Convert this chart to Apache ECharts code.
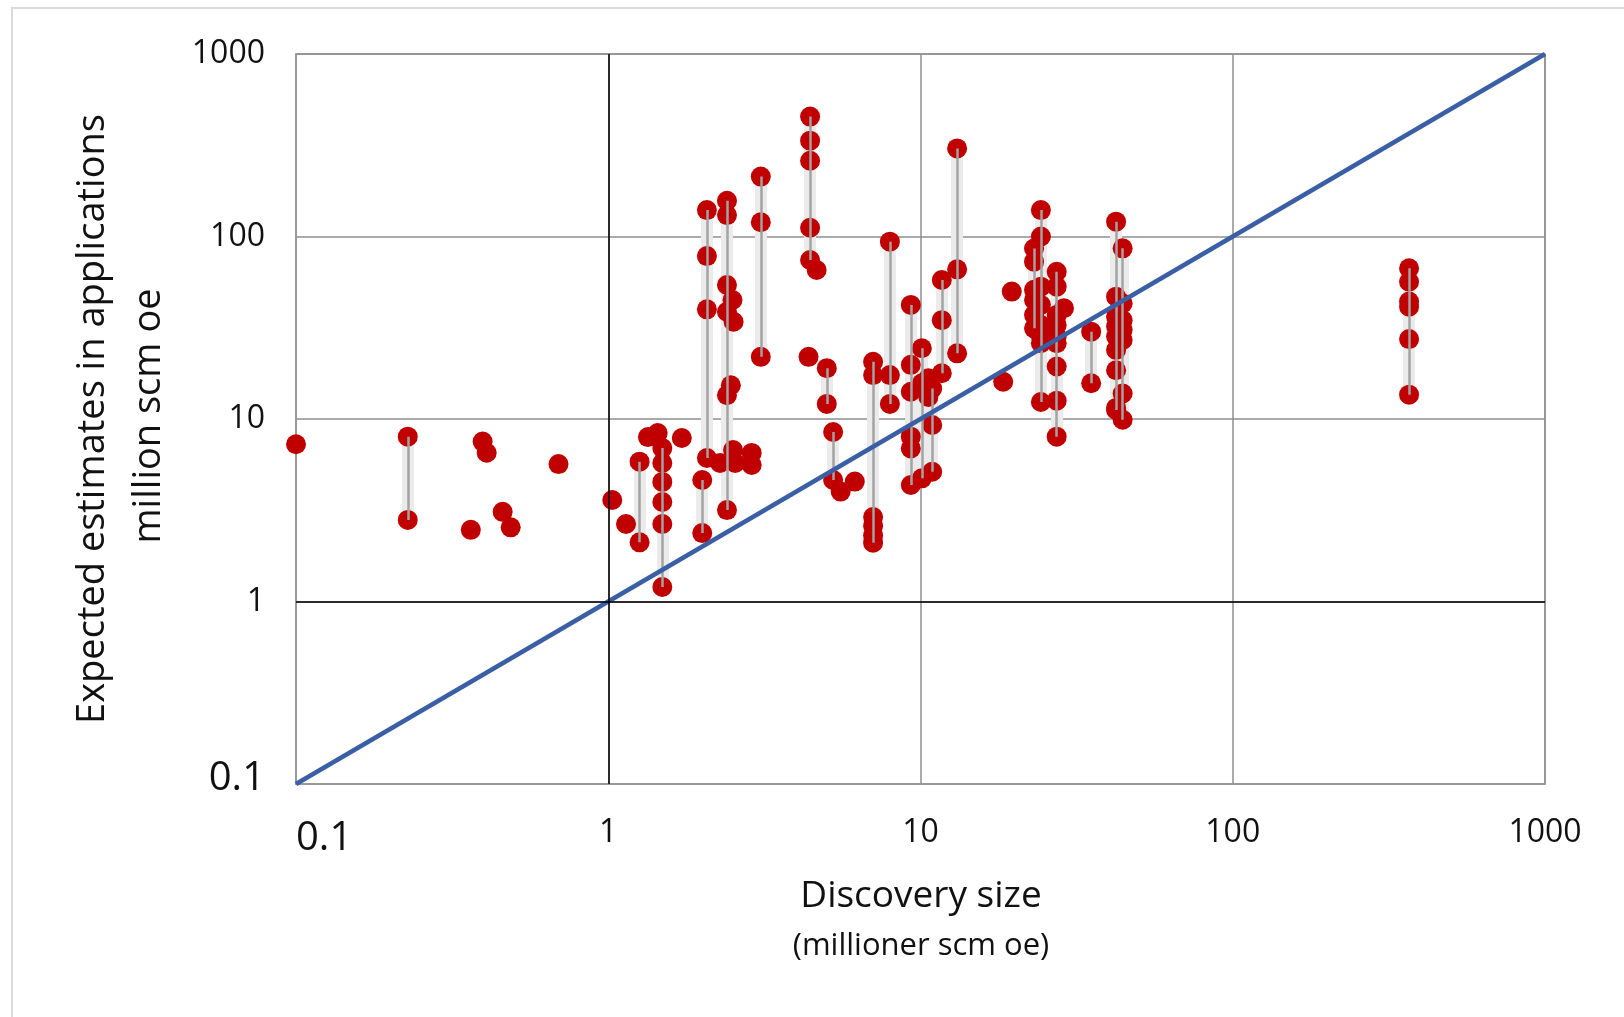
<!DOCTYPE html>
<html>
<head>
<meta charset="utf-8">
<script src="https://cdn.jsdelivr.net/npm/echarts@6/dist/echarts.min.js"></script>
<style>
html,body{margin:0;padding:0;background:#fff;}
#c{width:1624px;height:1017px;}
</style>
</head>
<body>
<div id="c"></div>
<script>
// x value of each discovery (million scm oe)
const discoverySize = [0.1, 0.228, 0.396, 0.408, 0.363, 0.459, 0.487, 0.693, 1.03, 1.14,
  1.26, 1.34, 1.44, 1.49, 1.72, 2.0, 2.07, 2.28, 2.40, 2.50,
  2.52, 2.47, 2.51, 2.55, 2.88, 2.88, 3.08, 4.43, 4.65, 4.38,
  5.01, 5.25, 5.55, 6.16, 7.05, 7.98, 9.31, 10.1, 10.6, 10.6,
  10.9, 11.7, 13.1, 18.4, 19.6, 23.1, 24.3, 27.3, 28.8, 35.2,
  42.3, 44.4, 367];
// expected estimates in applications for each discovery
const estimates = [
  [7.27], [8.0, 2.8], [7.52], [6.53], [2.47], [3.10], [2.55], [5.66], [3.60], [2.66],
  [5.84, 2.11], [7.96], [8.37], [6.93, 5.74, 4.52, 3.51, 2.66, 1.20], [7.87], [4.63, 2.37],
  [139.6, 78.1, 39.9, 6.11], [5.74], [157, 131, 54.2, 38.7, 13.5, 3.17], [44.9],
  [34.1], [15.3], [6.76], [5.74], [6.52], [5.60], [213, 119.7, 21.9],
  [454, 335, 260, 111.7, 74.3], [65.5], [21.9],
  [19.0, 12.1], [8.49, 4.63], [4.0], [4.54], [20.6, 17.4, 2.9, 2.6, 2.3, 2.1],
  [93.7, 17.4, 12.1], [42.2, 19.8, 14.1, 8.0, 6.9, 4.35], [24.4, 15.7, 4.73], [16.7], [13.2],
  [14.7, 9.27, 5.14], [57.8, 34.8, 17.8], [304, 66.1, 22.9], [16.0], [49.9],
  [86, 72.8, 51, 44.9, 37.2, 31.4], [139.6, 100, 53.1, 42.2, 32.7, 28.3, 26, 12.4],
  [64.1, 53.1, 37.2, 32.7, 28.3, 26, 19.4, 12.6, 8.0], [40.5], [30.1, 15.7],
  [120.6, 46.8, 36.3, 32.1, 28.3, 23.9, 18.5, 11.5, 11.2],
  [86.1, 43, 34.8, 30.8, 27.1, 13.8, 9.9], [67, 56.5, 44, 41.2, 27.4, 13.6]
];
const diagonal = [[0.1, 0.1], [1000, 1000]];
const axisMin = 0.1, axisMax = 1000;

const points = [];
const ranges = [];
discoverySize.forEach((x, i) => {
  const ys = estimates[i];
  ys.forEach(y => points.push([x, y]));
  if (ys.length > 1) {
    ranges.push({coords: [[x, Math.max(...ys)], [x, Math.min(...ys)]]});
  }
});

const FONT = '"Open Sans", "Noto Sans", sans-serif';
const chart = echarts.init(document.getElementById('c'), null, {renderer: 'canvas'});
const fmt = v => {
  if (v < 0.5) return '{big|0.1}';
  return '{n|' + Math.round(v) + '}';
};
chart.setOption({
  backgroundColor: '#fff',
  animation: false,
  grid: {left: 296, top: 54, right: 79, bottom: 233, show: true, borderColor: '#9a9a9a', borderWidth: 1.5},
  xAxis: {
    type: 'log', logBase: 10, min: axisMin, max: axisMax, interval: 1,
    axisLine: {show: true, lineStyle: {color: '#9a9a9a', width: 1.5}},
    axisTick: {show: false},
    splitLine: {show: true, lineStyle: {color: '#8e8e8e', width: 1.5}},
    axisLabel: {
      formatter: fmt, margin: 33, alignMinLabel: 'left',
      rich: {
        n: {fontFamily: FONT, fontSize: 32, color: '#111', lineHeight: 32},
        big: {fontFamily: FONT, fontSize: 40, color: '#111', lineHeight: 32, padding: [12, 0, 0, 0]}
      }
    }
  },
  yAxis: {
    type: 'log', logBase: 10, min: axisMin, max: axisMax, interval: 1,
    axisLine: {show: true, lineStyle: {color: '#9a9a9a', width: 1.5}},
    axisTick: {show: false},
    splitLine: {show: true, lineStyle: {color: '#8e8e8e', width: 1.5}},
    axisLabel: {
      formatter: fmt, margin: 31,
      rich: {
        n: {fontFamily: FONT, fontSize: 32, color: '#111'},
        big: {fontFamily: FONT, fontSize: 40, color: '#111', padding: [0, 0, 10, 0]}
      }
    }
  },
  graphic: [
    {type: 'rect', shape: {x: 12, y: 8, width: 1700, height: 1100}, style: {fill: 'none', stroke: '#d9d9d9', lineWidth: 2}, silent: true, z: -10},
    {type: 'text', x: 921, y: 896, style: {text: 'Discovery size', font: '37px ' + FONT, fill: '#111', textAlign: 'center', textVerticalAlign: 'middle'}},
    {type: 'text', x: 921, y: 946, style: {text: '(millioner scm oe)', font: '31px ' + FONT, fill: '#111', textAlign: 'center', textVerticalAlign: 'middle'}},
    {type: 'text', x: 93, y: 419, rotation: Math.PI / 2, style: {text: 'Expected estimates in applications', font: '38px ' + FONT, fill: '#111', textAlign: 'center', textVerticalAlign: 'middle'}},
    {type: 'text', x: 149, y: 416, rotation: Math.PI / 2, style: {text: 'million scm oe', font: '38px ' + FONT, fill: '#111', textAlign: 'center', textVerticalAlign: 'middle'}}
  ],
  series: [
    {
      type: 'lines', coordinateSystem: 'cartesian2d', z: 1, silent: true,
      lineStyle: {color: '#ebebeb', width: 12, opacity: 1},
      data: ranges
    },
    {
      type: 'scatter', z: 2, symbol: 'circle', symbolSize: 20, silent: true,
      itemStyle: {color: '#c00000', opacity: 1},
      data: points,
      markLine: {
        silent: true, symbol: 'none', label: {show: false},
        lineStyle: {color: '#000', width: 1.5, type: 'solid'},
        data: [{xAxis: 1}, {yAxis: 1}]
      }
    },
    {
      type: 'lines', coordinateSystem: 'cartesian2d', z: 3, silent: true,
      lineStyle: {color: '#a3a3a3', width: 2.5, opacity: 1},
      data: ranges
    },
    {
      type: 'line', z: 4, silent: true, symbol: 'none',
      lineStyle: {color: '#3a5fa5', width: 4.5},
      data: diagonal
    }
  ]
});
</script>
</body>
</html>
